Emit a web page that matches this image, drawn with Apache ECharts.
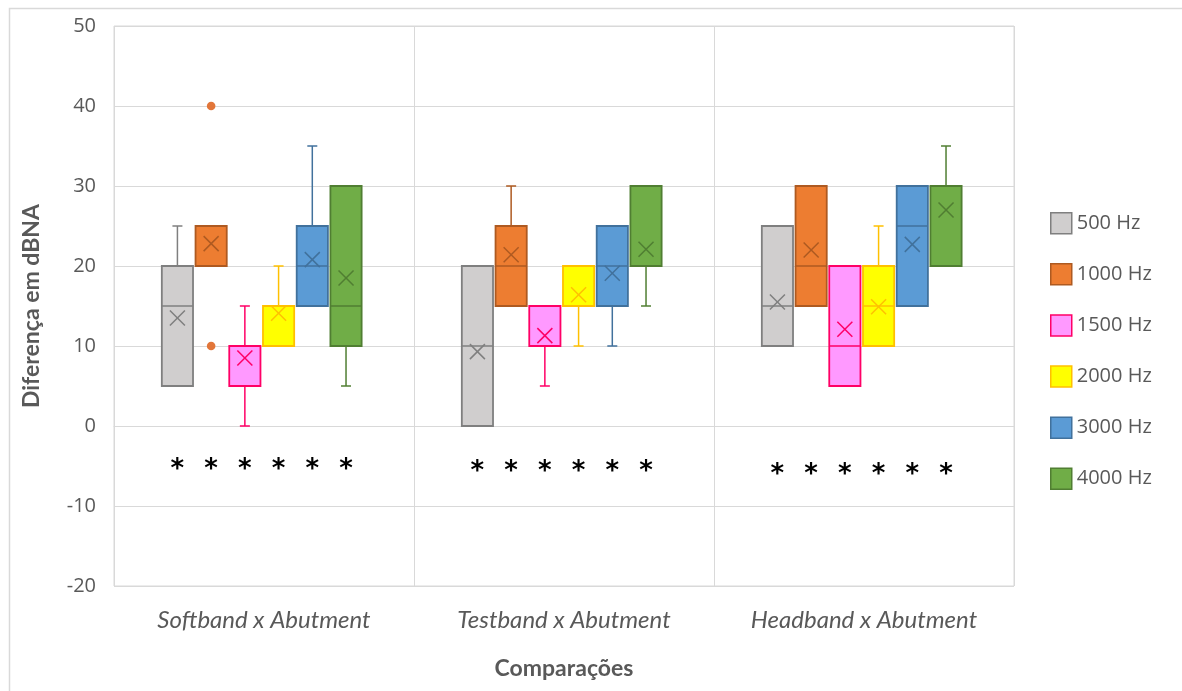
<!DOCTYPE html>
<html>
<head>
<meta charset="utf-8">
<script src="https://cdn.jsdelivr.net/npm/echarts@6/dist/echarts.min.js"></script>
<style>
  html, body { margin: 0; padding: 0; background: #ffffff; }
  #chart { width: 1182px; height: 691px; }
</style>
</head>
<body>
<div id="chart"></div>
<script>
// ---------------- DATA ----------------
const categories = ['Softband x Abutment', 'Testband x Abutment', 'Headband x Abutment'];
const seriesNames = ['500 Hz', '1000 Hz', '1500 Hz', '2000 Hz', '3000 Hz', '4000 Hz'];
const yTicks = { min: -20, max: 50, interval: 10 };

// box statistics per comparison: [min, Q1, median, Q3, max]
const box500  = [[5, 5, 15, 20, 25], [0, 0, 10, 20, 20], [10, 10, 15, 25, 25]];
const box1000 = [[20, 20, 20, 25, 25], [15, 15, 20, 25, 30], [15, 15, 20, 30, 30]];
const box1500 = [[0, 5, 10, 10, 15], [5, 10, 10, 15, 15], [5, 5, 10, 20, 20]];
const box2000 = [[10, 10, 15, 15, 20], [10, 15, 15, 20, 20], [10, 10, 15, 20, 25]];
const box3000 = [[15, 15, 20, 25, 35], [10, 15, 20, 25, 25], [15, 15, 25, 30, 30]];
const box4000 = [[5, 10, 15, 30, 30], [15, 20, 20, 30, 30], [20, 20, 30, 30, 35]];

// means (x markers)
const mean500  = [13.5, 9.3, 15.5];
const mean1000 = [22.8, 21.4, 22.0];
const mean1500 = [8.5, 11.3, 12.1];
const mean2000 = [14.1, 16.4, 14.9];
const mean3000 = [20.8, 19.1, 22.7];
const mean4000 = [18.5, 22.1, 27.0];

// outliers: [category index, value]
const outliers1000 = [[0, 40], [0, 10]];

// significance asterisk level per comparison
const sigLevel = [-4.9, -5.1, -5.5];

// ---------------- STYLE ----------------
const boxes = [box500, box1000, box1500, box2000, box3000, box4000];
const means = [mean500, mean1000, mean1500, mean2000, mean3000, mean4000];
const fills   = ['#D0CECE', '#ED7D31', '#FF99FF', '#FFFF00', '#5B9BD5', '#70AD47'];
const strokes = ['#7F7F7F', '#AE5A21', '#FF0066', '#FFC000', '#41719C', '#507E32'];
const SLOT = 0.1124;  // fraction of band between box centres
const SHIFT = -0.0076; // fraction of band the group is shifted
const BOXW = 0.104;   // fraction of band for box width
const CAP = 5;        // half-width of whisker cap (px)
const XH = 7.5;       // half-size of mean marker (px)

function boxCenter(api, cat, si) {
  const band = api.size([1, 0])[0];
  return api.coord([cat, 0])[0] + ((si - 2.5) * SLOT + SHIFT) * band;
}

function makeBoxRender(si) {
  return function (params, api) {
    const cat = api.value(0);
    const band = api.size([1, 0])[0];
    const cx = boxCenter(api, cat, si);
    const w = band * BOXW;
    const y = (v) => api.coord([cat, v])[1];
    const yMin = y(api.value(1)), yQ1 = y(api.value(2)), yMed = y(api.value(3)),
          yQ3 = y(api.value(4)), yMax = y(api.value(5)), yMean = y(api.value(6));
    const st = { stroke: strokes[si], lineWidth: 1.5 };
    const children = [];
    if (yMax < yQ3 - 0.5) {
      children.push({ type: 'line', shape: { x1: cx, y1: yQ3, x2: cx, y2: yMax }, style: st });
      children.push({ type: 'line', shape: { x1: cx - CAP, y1: yMax, x2: cx + CAP, y2: yMax }, style: st });
    }
    if (yMin > yQ1 + 0.5) {
      children.push({ type: 'line', shape: { x1: cx, y1: yQ1, x2: cx, y2: yMin }, style: st });
      children.push({ type: 'line', shape: { x1: cx - CAP, y1: yMin, x2: cx + CAP, y2: yMin }, style: st });
    }
    children.push({ type: 'rect', shape: { x: cx - w / 2, y: yQ3, width: w, height: yQ1 - yQ3 },
      style: { fill: fills[si], stroke: strokes[si], lineWidth: 1.8 } });
    children.push({ type: 'line', shape: { x1: cx - w / 2, y1: yMed, x2: cx + w / 2, y2: yMed }, style: st });
    children.push({ type: 'line', shape: { x1: cx - XH, y1: yMean - XH, x2: cx + XH, y2: yMean + XH }, style: st });
    children.push({ type: 'line', shape: { x1: cx - XH, y1: yMean + XH, x2: cx + XH, y2: yMean - XH }, style: st });
    return { type: 'group', children: children };
  };
}

const series = seriesNames.map(function (name, si) {
  const data = boxes[si].map(function (b, ci) { return [ci].concat(b).concat([means[si][ci]]); });
  return {
    name: name,
    type: 'custom',
    renderItem: makeBoxRender(si),
    itemStyle: { color: fills[si], borderColor: strokes[si], borderWidth: 1.5 },
    encode: { x: 0, y: [1, 2, 3, 4, 5, 6] },
    data: data,
    z: 3
  };
});

// outliers (1000 Hz)
series.push({
  name: 'outliers',
  type: 'custom',
  renderItem: function (params, api) {
    const cat = api.value(0);
    const si = api.value(1);
    const cx = boxCenter(api, cat, si);
    const cy = api.coord([cat, api.value(2)])[1];
    return { type: 'circle', shape: { cx: cx, cy: cy, r: 4.3 }, style: { fill: '#E2763A' } };
  },
  encode: { x: 0, y: 2 },
  data: outliers1000.map(function (o) { return [o[0], 1, o[1]]; }),
  z: 4
});

// significance asterisks
const sigData = [];
categories.forEach(function (c, ci) {
  seriesNames.forEach(function (n, si) { sigData.push([ci, si, sigLevel[ci]]); });
});
series.push({
  name: 'sig',
  type: 'custom',
  renderItem: function (params, api) {
    const cat = api.value(0);
    const si = api.value(1);
    const cx = boxCenter(api, cat, si);
    const cy = api.coord([cat, api.value(2)])[1];
    return { type: 'text', x: cx, y: cy + 5, style: {
      text: '*', fill: '#000000', font: 'bold 26px "DejaVu Sans Mono"',
      align: 'center', verticalAlign: 'middle' } };
  },
  encode: { x: 0, y: 2 },
  data: sigData,
  z: 4
});

const chart = echarts.init(document.getElementById('chart'));
chart.setOption({
  backgroundColor: '#ffffff',
  animation: false,
  graphic: [{
    type: 'rect', left: 7, top: 6, shape: { width: 1220, height: 720 },
    style: { fill: 'none', stroke: '#D9D9D9', lineWidth: 1.5 }, silent: true
  }],
  grid: { left: 114, top: 26, width: 900, height: 560, show: true, borderColor: '#D9D9D9', borderWidth: 1 },
  legend: {
    orient: 'vertical', left: 1050, top: 212, padding: 0,
    itemWidth: 21, itemHeight: 21, itemGap: 28.6, itemTextGap: 11, icon: 'rect',
    textStyle: { fontFamily: 'Open Sans', fontSize: 20, color: '#595959' },
    data: seriesNames.map(function (n, si) {
      return { name: n, itemStyle: { color: fills[si], borderColor: strokes[si], borderWidth: 1.5 } };
    })
  },
  xAxis: {
    type: 'category', data: categories, boundaryGap: true,
    axisTick: { show: false },
    axisLine: { lineStyle: { color: '#D9D9D9' } },
    splitLine: { show: true, lineStyle: { color: '#D9D9D9', width: 1 } },
    axisLabel: { fontFamily: 'Lato', fontStyle: 'italic', fontSize: 24, color: '#595959', margin: 22 },
    name: 'Comparações', nameLocation: 'middle', nameGap: 71,
    nameTextStyle: { fontFamily: 'Lato', fontWeight: 'bold', fontSize: 23, color: '#595959' }
  },
  yAxis: {
    type: 'value', min: yTicks.min, max: yTicks.max, interval: yTicks.interval,
    axisLine: { show: false }, axisTick: { show: false },
    splitLine: { lineStyle: { color: '#D9D9D9', width: 1 } },
    axisLabel: { fontFamily: 'Open Sans', fontSize: 20, color: '#595959', margin: 18 },
    name: 'Diferença em dBNA', nameLocation: 'middle', nameGap: 71, nameRotate: 90,
    nameTextStyle: { fontFamily: 'Lato', fontWeight: 'bold', fontSize: 23, color: '#595959' }
  },
  series: series
});
</script>
</body>
</html>
